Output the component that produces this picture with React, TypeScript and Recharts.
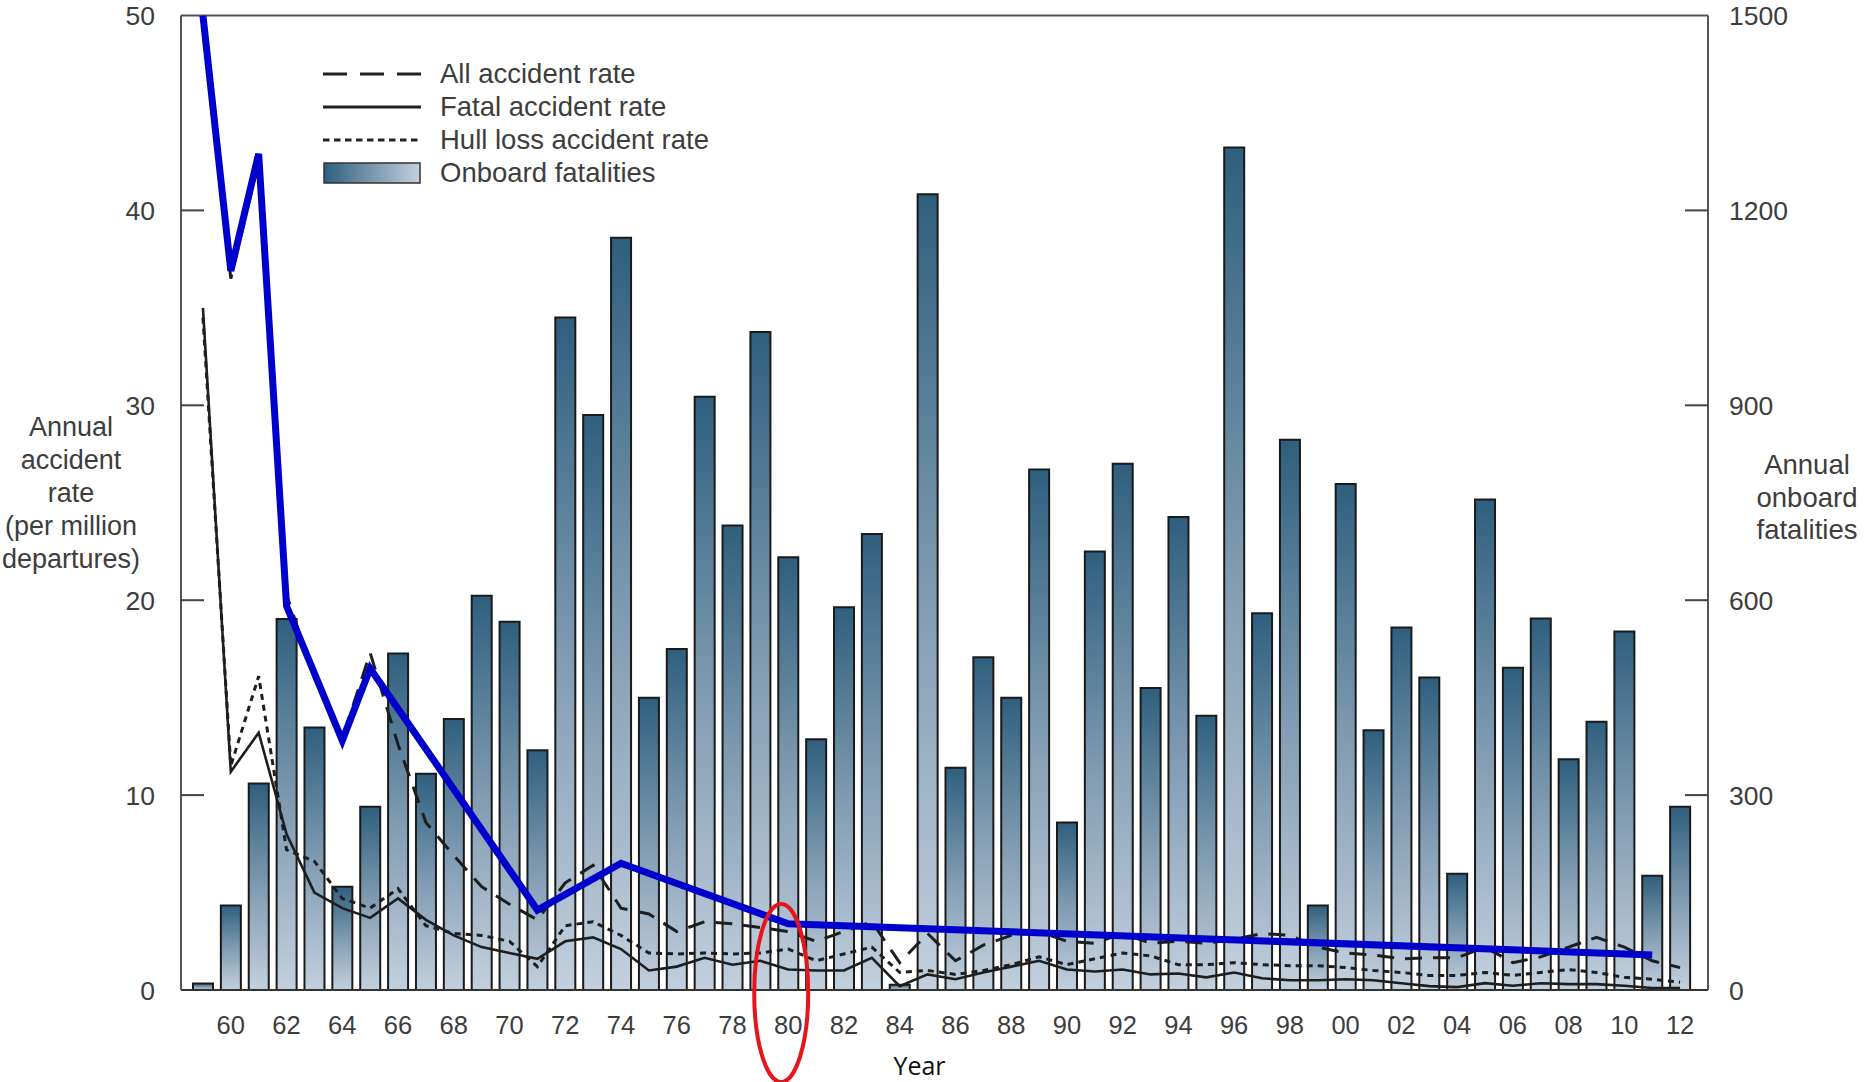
import {
  ComposedChart,
  Bar,
  Line,
  XAxis,
  YAxis,
  Legend,
  ReferenceLine,
  ReferenceDot,
} from 'recharts';

const FONT = '"Liberation Sans", Arial, sans-serif';
const TEXT = '#3d3d3d';

// years on the category axis
const years = [
  '1959', '1960', '1961', '1962', '1963', '1964', '1965', '1966', '1967', '1968',
  '1969', '1970', '1971', '1972', '1973', '1974', '1975', '1976', '1977', '1978',
  '1979', '1980', '1981', '1982', '1983', '1984', '1985', '1986', '1987', '1988',
  '1989', '1990', '1991', '1992', '1993', '1994', '1995', '1996', '1997', '1998',
  '1999', '2000', '2001', '2002', '2003', '2004', '2005', '2006', '2007', '2008',
  '2009', '2010', '2011', '2012',
];

// bars, right axis
const onboardFatalities = [
  10, 130, 318, 571, 404, 159, 282, 518, 333, 417,
  607, 567, 369, 1035, 885, 1158, 450, 525, 913, 715,
  1013, 666, 386, 589, 702, 8, 1225, 342, 512, 450,
  801, 258, 675, 810, 465, 728, 422, 1297, 580, 847,
  130, 779, 400, 558, 481, 179, 755, 496, 572, 355,
  413, 552, 176, 282,
];

// lines, left axis
const allAccidentRate = [
  50, 36.5, 42.5, 20.3, 16.0, 12.9, 17.3, 12.6, 8.6, 6.9,
  5.3, 4.4, 3.6, 5.5, 6.4, 4.2, 3.9, 3.0, 3.5, 3.4,
  3.2, 3.0, 2.5, 3.0, 3.5, 1.4, 2.9, 1.5, 2.3, 2.8,
  3.0, 2.5, 2.4, 2.9, 2.4, 2.5, 2.4, 2.6, 2.9, 2.8,
  2.2, 1.9, 1.8, 1.6, 1.65, 1.65, 2.2, 1.4, 1.7, 2.2,
  2.7, 2.2, 1.5, 1.15,
];

const fatalAccidentRate = [
  35, 11.2, 13.2, 8.0, 5.0, 4.2, 3.7, 4.7, 3.6, 2.8,
  2.2, 1.9, 1.6, 2.5, 2.7, 2.1, 1.0, 1.2, 1.65, 1.3,
  1.5, 1.05, 1.0, 1.0, 1.65, 0.2, 0.8, 0.55, 0.9, 1.2,
  1.5, 1.05, 0.95, 1.05, 0.8, 0.85, 0.65, 0.9, 0.6, 0.5,
  0.5, 0.55, 0.5, 0.35, 0.2, 0.15, 0.35, 0.22, 0.35, 0.3,
  0.3, 0.22, 0.1, 0.1,
];

const hullLossRate = [
  34.5, 11.5, 16.1, 7.2, 6.6, 4.7, 4.2, 5.2, 3.3, 2.9,
  2.8, 2.5, 1.2, 3.3, 3.5, 2.8, 1.9, 1.85, 1.9, 1.85,
  1.9, 2.1, 1.5, 1.85, 2.2, 0.9, 1.0, 0.8, 1.0, 1.3,
  1.7, 1.3, 1.6, 1.9, 1.75, 1.3, 1.3, 1.4, 1.3, 1.25,
  1.25, 1.15, 1.0, 0.9, 0.75, 0.75, 0.9, 0.75, 0.9, 1.05,
  0.9, 0.65, 0.55, 0.4,
];

// hand-drawn blue trace over the chart
const traceYears = ['1959', '1960', '1961', '1962', '1964', '1965', '1971', '1974', '1980', '2011'];
const traceValues = [50, 36.9, 42.9, 19.7, 12.8, 16.5, 4.1, 6.5, 3.4, 1.8];

const leftTicks = [0, 10, 20, 30, 40, 50];
const rightTicks = [0, 300, 600, 900, 1200, 1500];

const leftTitle = ['Annual', 'accident', 'rate', '(per million', 'departures)'];
const rightTitle = ['Annual', 'onboard', 'fatalities'];

const legendRows = [
  { name: 'All accident rate', dash: '24 13' },
  { name: 'Fatal accident rate', dash: undefined },
  { name: 'Hull loss accident rate', dash: '6.5 4.5' },
  { name: 'Onboard fatalities', bar: true },
];

const data = years.map((year, i) => {
  const t = traceYears.indexOf(year);
  return {
    year,
    fatalities: onboardFatalities[i],
    all: allAccidentRate[i],
    fatal: fatalAccidentRate[i],
    hull: hullLossRate[i],
    trace: t >= 0 ? traceValues[t] : null,
  };
});

const LeftTick = (props: any) => {
  const { x, y, payload } = props;
  const v = payload.value;
  return (
    <g>
      {v > 0 && v < 50 && (
        <line x1={x} x2={x + 23} y1={y} y2={y} stroke="#444" strokeWidth={2} />
      )}
      <text x={x - 26} y={y} dy="0.36em" textAnchor="end" fill={TEXT} fontSize={26.5} fontFamily={FONT}>
        {v}
      </text>
    </g>
  );
};

const RightTick = (props: any) => {
  const { x, y, payload } = props;
  const v = payload.value;
  return (
    <g>
      {v > 0 && v < 1500 && (
        <line x1={x - 23} x2={x} y1={y} y2={y} stroke="#444" strokeWidth={2} />
      )}
      <text x={x + 21} y={y} dy="0.36em" textAnchor="start" fill={TEXT} fontSize={26.5} fontFamily={FONT}>
        {v}
      </text>
    </g>
  );
};

const LeftTitle = (props: any) => {
  const vb = props.viewBox || { x: 0, y: 15.5, width: 181, height: 975 };
  const mid = vb.y + vb.height / 2;
  return (
    <text textAnchor="middle" fill={TEXT} fontSize={27} fontFamily={FONT}>
      {leftTitle.map((s, i) => (
        <tspan key={s} x={vb.x + 71} y={mid + (i - 2) * 33 - 10} dy="0.36em">
          {s}
        </tspan>
      ))}
    </text>
  );
};

const RightTitle = (props: any) => {
  const vb = props.viewBox || { x: 1708, y: 15.5, width: 156, height: 975 };
  const mid = vb.y + vb.height / 2;
  return (
    <text textAnchor="middle" fill={TEXT} fontSize={27.5} fontFamily={FONT}>
      {rightTitle.map((s, i) => (
        <tspan key={s} x={vb.x + 99} y={mid + (i - 1) * 32.5 - 6} dy="0.36em">
          {s}
        </tspan>
      ))}
    </text>
  );
};

const YearLabel = (props: any) => {
  const vb = props.viewBox || { x: 181, y: 990, width: 1527, height: 92 };
  return (
    <text
      x={vb.x + vb.width / 2 - 25}
      y={vb.y + 76}
      dy="0.36em"
      textAnchor="middle"
      fill="#111"
      fontSize={25}
      fontFamily='"Open Sans", sans-serif'
    >
      Year
    </text>
  );
};

const renderLegend = () => (
  <div style={{ fontFamily: FONT, fontSize: 27.5, color: TEXT }}>
    {legendRows.map((r) => (
      <div key={r.name} style={{ display: 'flex', alignItems: 'center', height: 33 }}>
        <svg width={98} height={24} style={{ marginRight: 19 }}>
          <defs>
            <linearGradient id="legendGrad" x1="0" y1="0" x2="1" y2="0">
              <stop offset="0%" stopColor="#2f5f7e" />
              <stop offset="100%" stopColor="#c3d0dd" />
            </linearGradient>
          </defs>
          {r.bar ? (
            <rect x={1} y={2} width={96} height={20} fill="url(#legendGrad)" stroke="#333" strokeWidth={1.5} />
          ) : (
            <line x1={0} x2={98} y1={12} y2={12} stroke="#222" strokeWidth={3} strokeDasharray={r.dash} />
          )}
        </svg>
        <span>{r.name}</span>
      </div>
    ))}
  </div>
);

const App = () => {
  return (
    <div style={{ position: 'absolute', left: 0, top: 0, width: 1864, height: 1082 }}>
      <ComposedChart
        width={1864}
        height={1082}
        data={data}
        margin={{ top: 15.5, right: 0, bottom: 0, left: 0 }}
      >
        <defs>
          <linearGradient id="barGrad" x1="0" y1="0" x2="0" y2="1">
            <stop offset="0%" stopColor="#2f5f7e" />
            <stop offset="50%" stopColor="#7f9bb2" />
            <stop offset="100%" stopColor="#c3d0dd" />
          </linearGradient>
        </defs>

        <XAxis
          dataKey="year"
          type="category"
          interval={0}
          padding={{ left: 8, right: 14 }}
          height={92}
          tickLine={false}
          tickMargin={20}
          axisLine={{ stroke: '#333', strokeWidth: 2 }}
          tick={{ fill: TEXT, fontSize: 25.5, fontFamily: FONT }}
          tickFormatter={(v: string) => (Number(v) % 2 === 0 ? v.slice(2) : '')}
          label={{ content: YearLabel }}
        />
        <YAxis
          yAxisId="left"
          orientation="left"
          width={181}
          domain={[0, 50]}
          ticks={leftTicks}
          allowDataOverflow
          tickSize={0}
          tickMargin={0}
          tickLine={false}
          axisLine={{ stroke: '#555', strokeWidth: 2 }}
          tick={<LeftTick />}
          label={{ content: LeftTitle }}
        />
        <YAxis
          yAxisId="right"
          orientation="right"
          width={156}
          domain={[0, 1500]}
          ticks={rightTicks}
          tickSize={0}
          tickMargin={0}
          tickLine={false}
          axisLine={{ stroke: '#555', strokeWidth: 2 }}
          tick={<RightTick />}
          label={{ content: RightTitle }}
        />

        <ReferenceLine yAxisId="left" y={50} stroke="#555" strokeWidth={2} />

        <Legend
          layout="vertical"
          align="center"
          verticalAlign="middle"
          content={renderLegend}
          wrapperStyle={{ top: 57.5, left: 323, width: 'auto', height: 'auto' }}
        />

        <Bar
          yAxisId="right"
          dataKey="fatalities"
          name="Onboard fatalities"
          barSize={20}
          fill="url(#barGrad)"
          stroke="#1a1a1a"
          strokeWidth={2}
          isAnimationActive={false}
        />
        <Line
          yAxisId="left"
          type="linear"
          dataKey="hull"
          name="Hull loss accident rate"
          stroke="#1e1e1e"
          strokeWidth={3}
          strokeDasharray="6 5"
          dot={false}
          isAnimationActive={false}
        />
        <Line
          yAxisId="left"
          type="linear"
          dataKey="fatal"
          name="Fatal accident rate"
          stroke="#1e1e1e"
          strokeWidth={2.6}
          dot={false}
          isAnimationActive={false}
        />
        <Line
          yAxisId="left"
          type="linear"
          dataKey="all"
          name="All accident rate"
          stroke="#1e1e1e"
          strokeWidth={3}
          strokeDasharray="17 11"
          dot={false}
          isAnimationActive={false}
        />
        <Line
          yAxisId="left"
          type="linear"
          dataKey="trace"
          stroke="#0000cc"
          strokeWidth={7}
          connectNulls
          dot={false}
          legendType="none"
          isAnimationActive={false}
        />

        <ReferenceDot
          yAxisId="left"
          x="1980"
          y={0}
          ifOverflow="visible"
          shape={(p: any) => (
            <ellipse
              cx={p.cx - 7}
              cy={p.cy + 3}
              rx={27}
              ry={89}
              fill="none"
              stroke="#e8141b"
              strokeWidth={4}
            />
          )}
        />
      </ComposedChart>
    </div>
  );
};

export default App;
